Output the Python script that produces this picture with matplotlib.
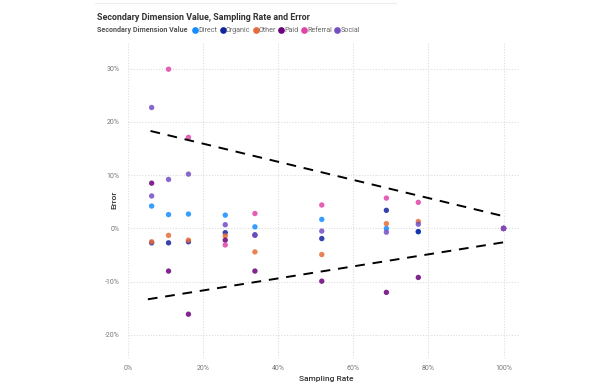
import matplotlib
matplotlib.use("Agg")
import matplotlib.pyplot as plt
import numpy as np
from matplotlib.ticker import FuncFormatter, MultipleLocator
from matplotlib.lines import Line2D

plt.rcParams['font.family'] = ['Roboto', 'DejaVu Sans']

# ---- data ----
series_names = ["Direct", "Organic", "Other", "Paid", "Referral", "Social"]
series_colors = ["#118DFF", "#12239E", "#E66C37", "#6B007B", "#E044A7", "#744EC2"]

direct_x = [0.063, 0.108, 0.161, 0.259, 0.338, 0.516, 0.688, 0.773, 1.0]
direct_y = [0.042, 0.026, 0.027, 0.025, 0.003, 0.017, 0.000, -0.006, 0.0]

organic_x = [0.063, 0.108, 0.161, 0.259, 0.338, 0.516, 0.688, 0.773, 1.0]
organic_y = [-0.027, -0.027, -0.025, -0.008, -0.012, -0.019, 0.034, -0.006, 0.0]

other_x = [0.063, 0.108, 0.161, 0.259, 0.338, 0.516, 0.688, 0.773, 1.0]
other_y = [-0.025, -0.013, -0.022, -0.014, -0.044, -0.049, 0.009, 0.013, 0.0]

paid_x = [0.063, 0.108, 0.161, 0.259, 0.338, 0.516, 0.688, 0.773, 1.0]
paid_y = [0.085, -0.080, -0.161, -0.022, -0.080, -0.099, -0.120, -0.092, 0.0]

referral_x = [0.108, 0.161, 0.259, 0.338, 0.516, 0.688, 0.773, 1.0]
referral_y = [0.299, 0.171, -0.031, 0.028, 0.044, 0.057, 0.049, 0.0]

social_x = [0.063, 0.063, 0.108, 0.161, 0.259, 0.338, 0.516, 0.688, 0.773, 1.0]
social_y = [0.227, 0.061, 0.092, 0.102, 0.007, -0.013, -0.005, -0.007, 0.008, 0.0]

bound_x = [0.06, 1.0]
upper_y = [0.183, 0.023]
lower_x = [0.053, 1.0]
lower_y = [-0.133, -0.026]

xs = [direct_x, organic_x, other_x, paid_x, referral_x, social_x]
ys = [direct_y, organic_y, other_y, paid_y, referral_y, social_y]

# ---- figure ----
fig = plt.figure(figsize=(6.0, 3.89), dpi=100)
ax = fig.add_axes([0.2133, 0.08, 0.651, 0.812])

for name, c, x, y in zip(series_names, series_colors, xs, ys):
    ax.scatter(x, y, s=15, color=c, alpha=0.85, edgecolors="none", zorder=3)

ax.plot(bound_x, upper_y, color="black", lw=1.4, dashes=(5, 4), zorder=4)
ax.plot(lower_x, lower_y, color="black", lw=1.4, dashes=(5, 4), zorder=4)

ax.set_xlim(0, 1.04)
ax.set_ylim(-0.243, 0.35)
ax.xaxis.set_major_locator(MultipleLocator(0.2))
ax.yaxis.set_major_locator(MultipleLocator(0.1))
pct = FuncFormatter(lambda v, p: f"{v*100:.0f}%")
ax.xaxis.set_major_formatter(pct)
ax.yaxis.set_major_formatter(pct)
ax.tick_params(axis="x", length=0, labelsize=5, labelcolor="#777777", pad=5)
ax.tick_params(axis="y", length=0, labelsize=5, labelcolor="#777777", pad=6)
ax.grid(True, color="#dddddd", lw=0.8, linestyle=(0, (1, 1.5)))
ax.set_axisbelow(True)
for s in ax.spines.values():
    s.set_visible(False)

ax.set_xlabel("Sampling Rate", fontsize=6, fontweight="medium", color="#333333")
ax.xaxis.set_label_coords(0.507, -0.058)
ax.set_ylabel("Error", fontsize=6, fontweight="medium", color="#333333")
ax.yaxis.set_label_coords(-0.028, 0.5)

fig.text(0.162, 0.955, "Secondary Dimension Value, Sampling Rate and Error",
         fontsize=6.4, fontweight="bold", color="#333333", va="center")

# legend as text row
lx = 0.162
ly = 0.918
t = fig.text(lx, ly, "Secondary Dimension Value", fontsize=5.1, fontweight="bold",
             color="#555555", va="baseline")
fig.canvas.draw()
r = fig.canvas.get_renderer()
bb = t.get_window_extent(r)
xpix = bb.x1 + 5
mark_y = ly + 2.0 / 389
for name, c in zip(series_names, series_colors):
    fig.add_artist(Line2D([(xpix + 2.5) / 600], [mark_y], marker="o", markersize=3.8,
                          color=c, linestyle="none", transform=fig.transFigure))
    tt = fig.text((xpix + 5.5) / 600, ly, name, fontsize=5.1, color="#666666", va="baseline")
    b2 = tt.get_window_extent(r)
    xpix = b2.x1 + 3

fig.add_artist(Line2D([0.158, 0.66], [0.992, 0.992], color="#eeeeee", lw=0.8,
                      transform=fig.transFigure))

fig.savefig("out.png", dpi=100, facecolor="white")
